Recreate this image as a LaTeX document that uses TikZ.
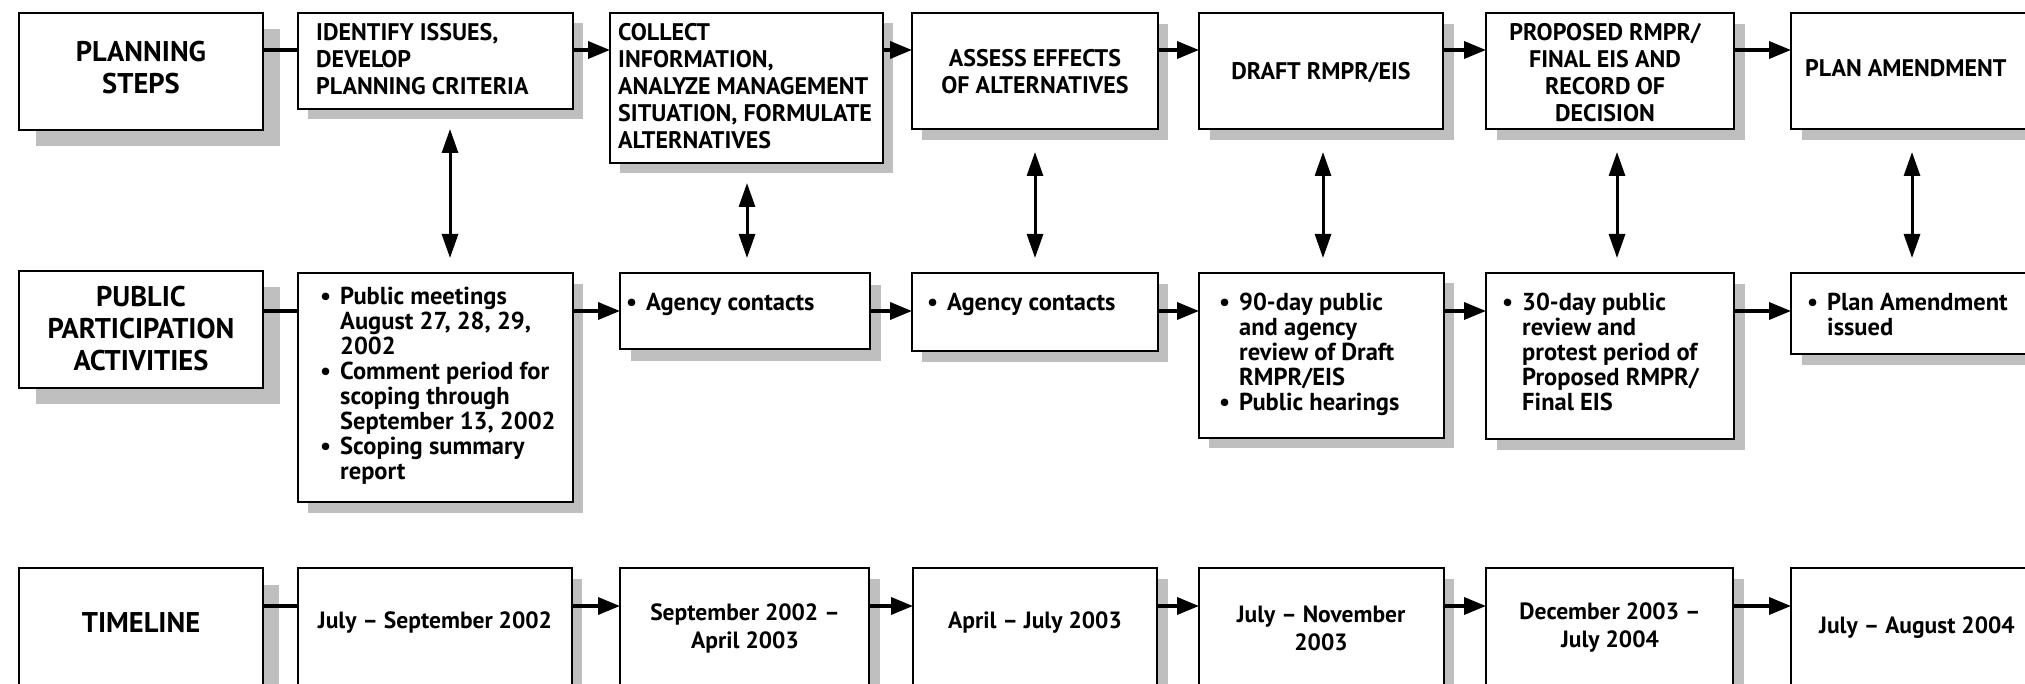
\documentclass[tikz,border=0pt]{standalone}
\usepackage{fontspec}
\setmainfont{PT Sans}
\usetikzlibrary{arrows.meta,shadows}
\definecolor{shd}{RGB}{191,191,191}
\newcommand\bl{\makebox[20pt][l]{•}}
\newcommand\ind{\hspace*{20pt}}
\begin{document}
\begin{tikzpicture}[x=1pt,y=-1pt,
  box/.style={draw=black, line width=2.8pt, fill=white, rectangle, inner sep=0pt, outer sep=0pt},
  sh/.style 2 args={drop shadow={shadow xshift=#1pt, shadow yshift=-#2pt, fill=shd, opacity=1}},
  hdr/.style={inner sep=0pt, align=center, font=\bfseries\fontsize{28.5}{32}\selectfont},
  ttl/.style={inner sep=0pt, font=\bfseries\fontsize{24}{27}\selectfont},
  cnt/.style={inner sep=0pt, align=left, anchor=north west, font=\bfseries\fontsize{24.5}{25}\selectfont},
  tml/.style={inner sep=0pt, align=center, font=\bfseries\fontsize{23.5}{28}\selectfont},
  plain/.style={line width=3.5pt},
  arr/.style={line width=3.5pt, -{Triangle[length=22pt,width=17pt]}},
  dbl/.style={line width=3pt, {Triangle[length=24pt,width=16pt]}-{Triangle[length=24pt,width=16pt]}}
]
\useasboundingbox (0,0) rectangle (2025,684);
\begin{scope}
\clip (0,0) rectangle (2025,684);
% ---- row 1 boxes
\node[box, sh={17}{16}, minimum width=244pt, minimum height=117pt] (plan) at (141,71.5) {};
\node[box, sh={10}{10}, minimum width=275pt, minimum height=96pt] (ident) at (435.5,61) {};
\node[box, sh={10}{10}, minimum width=273pt, minimum height=150pt] (coll) at (746.5,88) {};
\node[box, sh={10}{11}, minimum width=246pt, minimum height=116pt] (assess) at (1035,71) {};
\node[box, sh={11}{11}, minimum width=244pt, minimum height=116pt] (draft) at (1321,71) {};
\node[box, sh={11}{11}, minimum width=248pt, minimum height=116pt] (prop) at (1610,71) {};
\node[box, sh={11}{11}, minimum width=269pt, minimum height=116pt] (amend) at (1925.5,71) {};
% ---- row 2 boxes
\node[box, sh={17}{16}, minimum width=244pt, minimum height=117pt] (ppa) at (141,329.5) {};
\node[box, sh={10}{11}, minimum width=275pt, minimum height=229pt] (meet) at (435.5,387.5) {};
\node[box, sh={11}{12}, minimum width=250pt, minimum height=76pt] (ag1) at (745,311) {};
\node[box, sh={10}{11}, minimum width=246pt, minimum height=78pt] (ag2) at (1035,312) {};
\node[box, sh={10}{10}, minimum width=245pt, minimum height=165pt] (ninety) at (1321.5,355.5) {};
\node[box, sh={11}{11}, minimum width=248pt, minimum height=166pt] (thirty) at (1610,356) {};
\node[box, sh={11}{11}, minimum width=269pt, minimum height=81pt] (issued) at (1925.5,313.5) {};
% ---- row 3 boxes
\node[box, sh={16}{17}, minimum width=244pt, minimum height=152pt] (tl) at (141,644) {};
\node[box, sh={10}{11}, minimum width=274pt, minimum height=152pt] (t1) at (435,644) {};
\node[box, sh={11}{11}, minimum width=249pt, minimum height=152pt] (t2) at (744.5,644) {};
\node[box, sh={11}{11}, minimum width=244pt, minimum height=152pt] (t3) at (1035,644) {};
\node[box, sh={10}{11}, minimum width=245pt, minimum height=152pt] (t4) at (1321.5,644) {};
\node[box, sh={11}{11}, minimum width=247pt, minimum height=152pt] (t5) at (1609.5,644) {};
\node[box, sh={11}{11}, minimum width=269pt, minimum height=152pt] (t6) at (1925.5,644) {};
% ---- texts row 1
\node[hdr] (xplan) at (141,68) {PLANNING\\STEPS};
\node[ttl, align=left, anchor=north west] (xident) at (316,23) {IDENTIFY ISSUES,\\DEVELOP\\PLANNING CRITERIA};
\node[ttl, align=left, anchor=north west] (xcoll) at (618,23) {COLLECT\\INFORMATION,\\ANALYZE MANAGEMENT\\SITUATION, FORMULATE\\ALTERNATIVES};
\node[ttl, align=center] (xassess) at (1035,72) {ASSESS EFFECTS\\OF ALTERNATIVES};
\node[ttl, align=center] (xdraft) at (1321,73) {DRAFT RMPR/EIS};
\node[ttl, align=center] (xprop) at (1605,73) {PROPOSED RMPR/\\FINAL EIS AND\\RECORD OF\\DECISION};
\node[ttl, anchor=west] (xamend) at (1805,68) {PLAN AMENDMENT};
% ---- texts row 2
\node[hdr] (xppa) at (141,329) {PUBLIC\\PARTICIPATION\\ACTIVITIES};
\node[cnt] (xmeet) at (320,287) {\bl Public meetings\\\ind August 27, 28, 29,\\\ind 2002\\\bl Comment period for\\\ind scoping through\\\ind September 13, 2002\\\bl Scoping summary\\\ind report};
\node[cnt] (xag1) at (626,293) {\bl Agency contacts};
\node[cnt] (xag2) at (927,293) {\bl Agency contacts};
\node[cnt] (xninety) at (1219,293) {\bl 90-day public\\\ind and agency\\\ind review of Draft\\\ind RMPR/EIS\\\bl Public hearings};
\node[cnt] (xthirty) at (1502,293) {\bl 30-day public\\\ind review and\\\ind protest period of\\\ind Proposed RMPR/\\\ind Final EIS};
\node[cnt] (xissued) at (1807,293) {\bl Plan Amendment\\\ind issued};
% ---- texts row 3
\node[hdr] (xtl) at (141,623) {TIMELINE};
\node[tml] (xt1) at (435,623) {July – September 2002};
\node[tml] (xt2) at (745,628) {September 2002 –\\April 2003};
\node[tml] (xt3) at (1035,623) {April – July 2003};
\node[tml] (xt4) at (1321,628) {July – November\\2003};
\node[tml] (xt5) at (1610,628) {December 2003 –\\July 2004};
\node[tml, anchor=west] (xt6) at (1819,628) {July – August 2004};
% ---- horizontal connectors
\coordinate (r1) at (0,50);
\coordinate (r2) at (0,311);
\coordinate (r3) at (0,606);
\draw[plain] (plan.east |- r1) -- (ident.west |- r1);
\draw[arr] (ident.east |- r1) -- (coll.west |- r1);
\draw[arr] (coll.east |- r1) -- (assess.west |- r1);
\draw[arr] (assess.east |- r1) -- (draft.west |- r1);
\draw[arr] (draft.east |- r1) -- (prop.west |- r1);
\draw[arr] (prop.east |- r1) -- (amend.west |- r1);
\draw[plain] (ppa.east |- r2) -- (meet.west |- r2);
\draw[arr] (meet.east |- r2) -- (ag1.west |- r2);
\draw[arr] (ag1.east |- r2) -- (ag2.west |- r2);
\draw[arr] (ag2.east |- r2) -- (ninety.west |- r2);
\draw[arr] (ninety.east |- r2) -- (thirty.west |- r2);
\draw[arr] (thirty.east |- r2) -- (issued.west |- r2);
\draw[plain] (tl.east |- r3) -- (t1.west |- r3);
\draw[arr] (t1.east |- r3) -- (t2.west |- r3);
\draw[arr] (t2.east |- r3) -- (t3.west |- r3);
\draw[arr] (t3.east |- r3) -- (t4.west |- r3);
\draw[arr] (t4.east |- r3) -- (t5.west |- r3);
\draw[arr] (t5.east |- r3) -- (t6.west |- r3);
% ---- vertical double arrows
\coordinate (v1t) at (450,129);  \coordinate (v1b) at (450,258);
\coordinate (v2t) at (747,183);  \coordinate (v2b) at (747,258);
\coordinate (v3t) at (1035,152); \coordinate (v3b) at (1035,258);
\coordinate (v4t) at (1323,152); \coordinate (v4b) at (1323,258);
\coordinate (v5t) at (1617,152); \coordinate (v5b) at (1617,258);
\coordinate (v6t) at (1912,152); \coordinate (v6b) at (1912,258);
\draw[dbl] (v1t) -- (v1b);
\draw[dbl] (v2t) -- (v2b);
\draw[dbl] (v3t) -- (v3b);
\draw[dbl] (v4t) -- (v4b);
\draw[dbl] (v5t) -- (v5b);
\draw[dbl] (v6t) -- (v6b);
\end{scope}
\end{tikzpicture}
\end{document}
